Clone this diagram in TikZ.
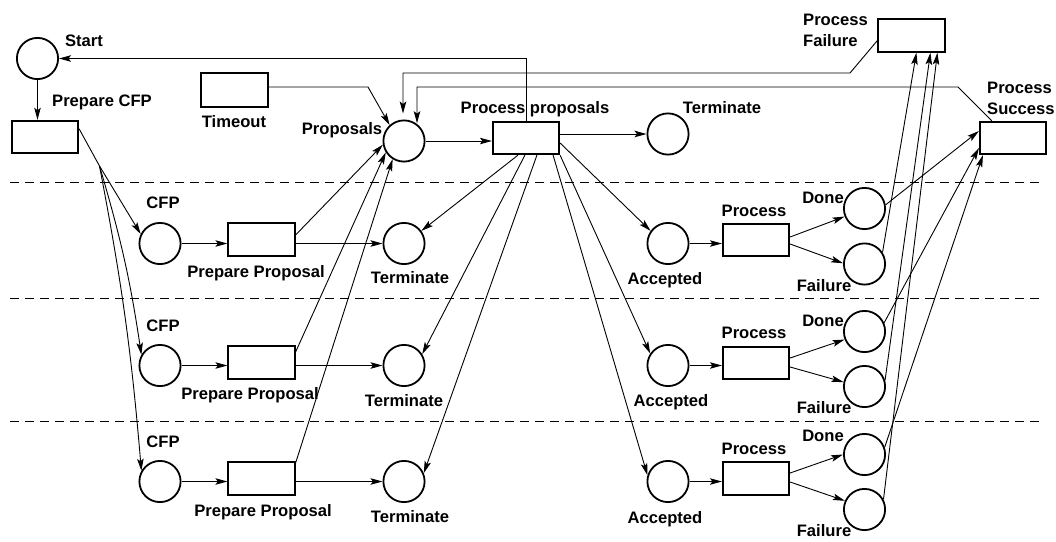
\documentclass[tikz,border=0pt]{standalone}
\usepackage{fontspec}
\setmainfont{Liberation Sans}
\usetikzlibrary{arrows.meta,calc}
\begin{document}
\begin{tikzpicture}[x=1pt,y=-1pt,
  place/.style={draw,circle,line width=1.8pt,minimum size=41.2pt,inner sep=0pt},
  trans/.style={draw,rectangle,line width=1.8pt,minimum width=66.4pt,minimum height=32.6pt,inner sep=0pt},
  lbl/.style={font=\fontsize{16.6}{20}\selectfont\bfseries,inner sep=0pt,text height=11.9pt,text depth=0pt},
  lbltwo/.style={font=\fontsize{16.6}{21}\selectfont\bfseries,inner sep=0pt,align=left,anchor=north west},
  arc/.style={line width=0.9pt,-{Stealth[length=12pt,width=6.5pt,inset=2.5pt]}},
  plain/.style={line width=0.9pt},
  lane/.style={line width=0.9pt,dash pattern=on 9pt off 6pt}]
\useasboundingbox (0,0) rectangle (1056,541);

% swim-lane separators
\draw[lane] (10,182) -- (1040,182);
\draw[lane] (10,298) -- (1040,298);
\draw[lane] (10,421) -- (1040,421);

% top row
\node[place] (start)   at (37.5,58.5) {};
\node[trans] (pcfp)    at (45,137) {};
\node[trans,minimum width=67.2pt,minimum height=34.2pt] (timeout) at (234.5,90) {};
\node[place] (prop)    at (404,141) {};
\node[trans] (ppbox)   at (526,138) {};
\node[place] (termtop) at (668,134) {};
\node[trans] (pf)      at (911.5,35.5) {};
\node[trans] (ps)      at (1013,138) {};

% participant lanes
\node[place] (cfp1)  at (160,243.5) {};
\node[place] (cfp2)  at (160,365.5) {};
\node[place] (cfp3)  at (160,481.5) {};
\node[trans] (pp1)   at (261.5,239.5) {};
\node[trans] (pp2)   at (261.5,362.5) {};
\node[trans] (pp3)   at (261.5,478.5) {};
\node[place] (term1) at (404,243.5) {};
\node[place] (term2) at (404,365.5) {};
\node[place] (term3) at (404,481.5) {};

% accepted proposals
\node[place] (acc1)  at (668,243.5) {};
\node[place] (acc2)  at (668,365.5) {};
\node[place] (acc3)  at (668,481.5) {};
\node[trans] (proc1) at (756,240) {};
\node[trans] (proc2) at (756,363) {};
\node[trans] (proc3) at (756,478.5) {};
\node[place] (done1) at (864.5,208.5) {};
\node[place] (done2) at (864.5,331.5) {};
\node[place] (done3) at (864.5,454.5) {};
\node[place] (fail1) at (864.5,264) {};
\node[place] (fail2) at (864.5,386.5) {};
\node[place] (fail3) at (864.5,509.5) {};

% labels
\node[lbl] (lstart)   at (84,41)    {Start};
\node[lbl] (lpcfp)    at (102,101)  {Prepare CFP};
\node[lbl] (ltimeout) at (234,122)  {Timeout};
\node[lbl] (lprop)    at (342,129)  {Proposals};
\node[lbl] (lpp)      at (535,108)  {Process proposals};
\node[lbl] (ltermtop) at (722,108)  {Terminate};
\node[lbltwo] (lpf)   at (803,14)   {Process\\Failure};
\node[lbltwo] (lps)   at (987,82)   {Process\\Success};
\node[lbl] (lcfp1)  at (163,203) {CFP};
\node[lbl] (lcfp2)  at (163,326) {CFP};
\node[lbl] (lcfp3)  at (163,442) {CFP};
\node[lbl] (lpp1)   at (256,272) {Prepare Proposal};
\node[lbl] (lpp2)   at (250,394) {Prepare Proposal};
\node[lbl] (lpp3)   at (263,511) {Prepare Proposal};
\node[lbl] (lterm1) at (410,278) {Terminate};
\node[lbl] (lterm2) at (404,401) {Terminate};
\node[lbl] (lterm3) at (410,517) {Terminate};
\node[lbl] (lacc1)  at (665,279) {Accepted};
\node[lbl] (lacc2)  at (671,401) {Accepted};
\node[lbl] (lacc3)  at (665,518) {Accepted};
\node[lbl] (lproc1) at (754,211) {Process};
\node[lbl] (lproc2) at (754,333) {Process};
\node[lbl] (lproc3) at (754,449) {Process};
\node[lbl] (ldone1) at (823,198) {Done};
\node[lbl] (ldone2) at (823,321) {Done};
\node[lbl] (ldone3) at (823,436) {Done};
\node[lbl] (lfail1) at (824,286) {Failure};
\node[lbl] (lfail2) at (824,408) {Failure};
\node[lbl] (lfail3) at (824,531) {Failure};

% initiator: start, call for proposals
\draw[arc] (start) -- (start |- pcfp.north);
\coordinate (fan) at (99.5,166);
\draw[arc] ($(pcfp.north east)+(0,9)$) -- (fan) -- (cfp1.154);
\draw[arc] (fan) to[bend left=4] (cfp2.150);
\draw[arc] (fan) to[bend left=3] (cfp3.150);

% participants prepare proposals
\draw[arc] (cfp1) -- (cfp1 -| pp1.west);
\draw[arc] (cfp2) -- (cfp2 -| pp2.west);
\draw[arc] (cfp3) -- (cfp3 -| pp3.west);
\draw[arc] (pp1.east |- term1) -- (term1);
\draw[arc] (pp2.east |- term2) -- (term2);
\draw[arc] (pp3.east |- term3) -- (term3);
\draw[arc] ($(pp1.east)+(0,-4.5)$) -- (prop.190);
\draw[arc] ($(pp2.east)+(0,-10.5)$) -- (prop.212);
\draw[arc] ($(pp3.east)+(0,-15.5)$) -- (prop.238);

% timeout
\coordinate (tbend) at (368,87);
\draw[arc] ($(timeout.east)+(0,-3)$) -- (tbend) -- (prop.132);

% evaluation of proposals
\draw[arc] (prop) -- (prop -| ppbox.west);
\draw[arc] (ppbox.east |- termtop) -- (termtop);
\draw[arc] (ppbox.north) |- (start);
\draw[arc] ($(ppbox.south west)+(26,0)$) -- (term1.36);
\draw[arc] ($(ppbox.south west)+(33,0)$) -- (term2.32);
\draw[arc] ($(ppbox.south west)+(45,0)$) -- (term3.23);
\draw[arc] ($(ppbox.east)+(0,5)$) -- (acc1.144);
\draw[arc] (ppbox.south east) -- (acc2.146);
\draw[arc] ($(ppbox.south east)+(-7,0)$) -- (acc3.163);

% processing of accepted proposals
\draw[arc] (acc1) -- (acc1 -| proc1.west);
\draw[arc] (acc2) -- (acc2 -| proc2.west);
\draw[arc] (acc3) -- (acc3 -| proc3.west);
\draw[arc] ($(proc1.east)+(0,-3)$) -- (done1.202);
\draw[arc] ($(proc1.east)+(0,4)$) -- (fail1.178);
\draw[arc] ($(proc2.east)+(0,-5)$) -- (done2.202);
\draw[arc] ($(proc2.east)+(0,4)$) -- (fail2.168);
\draw[arc] ($(proc3.east)+(0,-5.5)$) -- (done3.180);
\draw[arc] ($(proc3.east)+(0,3.5)$) -- (fail3.156);

% results
\draw[arc] (done1.10) -- ($(ps.west)+(0,-7)$);
\draw[arc] (done2.24) -- ($(ps.west)+(0,10)$);
\draw[arc] (done3.20) -- ($(ps.south west)+(4,0)$);
\draw[arc] (fail1.33) -- ($(pf.south west)+(39,0)$);
\draw[arc] (fail2.17) -- ($(pf.south west)+(53,0)$);
\draw[arc] (fail3.28) -- ($(pf.south west)+(60,0)$);

% feedback to proposals
\coordinate (psa) at (958,87);
\coordinate (psb) at (417,87);
\draw[arc] ($(ps.north west)+(13,0)$) -- (psa) -- (psb) -- (psb |- prop.56);
\coordinate (pfa) at (850,73);
\coordinate (pfb) at (403,73);
\draw[arc,shorten >=6pt] ($(pf.west)+(0,5)$) -- (pfa) -- (pfb) -- (pfb |- prop.north);
\end{tikzpicture}
\end{document}
